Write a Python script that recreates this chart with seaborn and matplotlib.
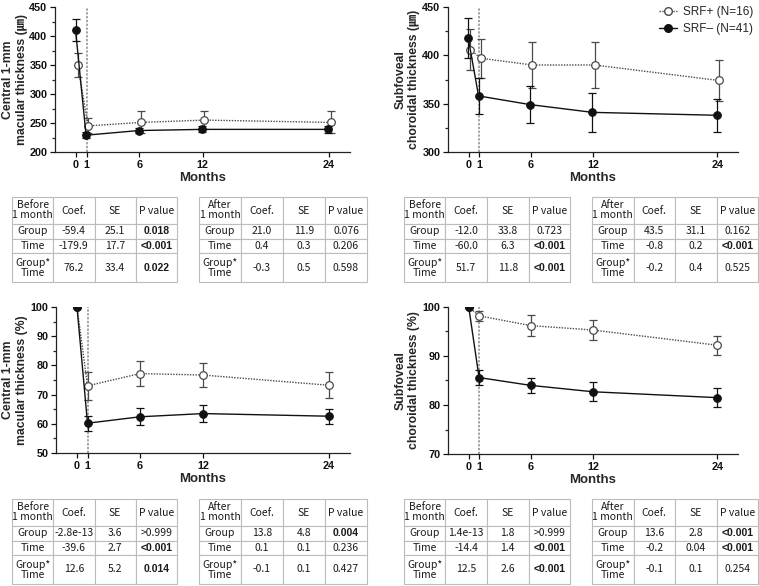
import numpy as np
import pandas as pd
import matplotlib
matplotlib.use('Agg')
import matplotlib.pyplot as plt
from matplotlib.ticker import MultipleLocator
from matplotlib.lines import Line2D
import seaborn as sns

sns.set_theme(style='ticks')
plt.rcParams['font.family'] = ['Liberation Sans', 'Noto Sans CJK KR', 'DejaVu Sans']

# ---------------------------------------------------------------------------
# data
# ---------------------------------------------------------------------------
months = [0, 1, 6, 12, 24]
lab_pos = 'SRF+ (N=16)'
lab_neg = 'SRF\u2013 (N=41)'

# Central 1-mm macular thickness (um)
cmt_pos = [350, 245, 251, 255, 251]
cmt_pos_se = [21, 13, 19, 16, 19]
cmt_neg = [410, 229, 237, 239, 239]
cmt_neg_se = [19, 5, 5, 5, 6]

# Subfoveal choroidal thickness (um)
sfct_pos = [406, 397, 390, 390, 374]
sfct_pos_se = [21, 20, 24, 24, 21]
sfct_neg = [418, 358, 349, 341, 338]
sfct_neg_se = [21, 19, 19, 20, 17]

# Central 1-mm macular thickness (%)
cmtp_pos = [100, 73.0, 77.2, 76.7, 73.2]
cmtp_pos_se = [0, 4.9, 4.4, 4.1, 4.4]
cmtp_neg = [100, 60.2, 62.4, 63.5, 62.6]
cmtp_neg_se = [0, 2.6, 2.9, 3.0, 2.6]

# Subfoveal choroidal thickness (%)
sfctp_pos = [100, 98.2, 96.2, 95.3, 92.2]
sfctp_pos_se = [0, 1.0, 2.2, 2.0, 1.9]
sfctp_neg = [100, 85.6, 84.0, 82.7, 81.5]
sfctp_neg_se = [0, 1.5, 1.5, 1.9, 1.9]

# regression tables: rows Group, Time, Group*Time -> [Coef., SE, P value]
row_names = ['Group', 'Time', 'Group*\nTime']
cmt_before = [['-59.4', '25.1', '0.018'], ['-179.9', '17.7', '<0.001'], ['76.2', '33.4', '0.022']]
cmt_after = [['21.0', '11.9', '0.076'], ['0.4', '0.3', '0.206'], ['-0.3', '0.5', '0.598']]
sfct_before = [['-12.0', '33.8', '0.723'], ['-60.0', '6.3', '<0.001'], ['51.7', '11.8', '<0.001']]
sfct_after = [['43.5', '31.1', '0.162'], ['-0.8', '0.2', '<0.001'], ['-0.2', '0.4', '0.525']]
cmtp_before = [['-2.8e-13', '3.6', '>0.999'], ['-39.6', '2.7', '<0.001'], ['12.6', '5.2', '0.014']]
cmtp_after = [['13.8', '4.8', '0.004'], ['0.1', '0.1', '0.236'], ['-0.1', '0.1', '0.427']]
sfctp_before = [['1.4e-13', '1.8', '>0.999'], ['-14.4', '1.4', '<0.001'], ['12.5', '2.6', '<0.001']]
sfctp_after = [['13.6', '2.8', '<0.001'], ['-0.2', '0.04', '<0.001'], ['-0.1', '0.1', '0.254']]

# ---------------------------------------------------------------------------
W, H = 759, 586
fig = plt.figure(figsize=(W / 100, H / 100), dpi=100)


def px_rect(x0, y0, x1, y1):
    return [x0 / W, 1 - y1 / H, (x1 - x0) / W, (y1 - y0) / H]


POS_COLOR = '#4a4a4a'
NEG_COLOR = '#111111'
MSIZE = 5.5


def draw_panel(rect_px, pos, pos_se, neg, neg_se, ylim, major, ylabel, nudge, label_right):
    ax = fig.add_axes(px_rect(*rect_px))
    x_pos = [m + nudge for m in months]
    x_neg = [m - nudge / 3 for m in months]
    df = pd.DataFrame({'x_pos': x_pos, 'x_neg': x_neg, 'pos': pos, 'neg': neg})

    ax.axvline(1, color='#8c8c8c', lw=1.1, ls=(0, (1.5, 1)), zorder=1)

    ax.errorbar(x_pos, pos, yerr=pos_se, fmt='none', ecolor=POS_COLOR,
                elinewidth=0.9, capsize=3, capthick=0.9, zorder=2)
    sns.lineplot(data=df, x='x_pos', y='pos', ax=ax, color=POS_COLOR, lw=1,
                 linestyle=(0, (1, 1)), marker='o', markersize=MSIZE,
                 markerfacecolor='white', markeredgecolor=POS_COLOR,
                 markeredgewidth=0.9, zorder=3)
    ax.errorbar(x_neg, neg, yerr=neg_se, fmt='none', ecolor=NEG_COLOR,
                elinewidth=0.9, capsize=3, capthick=0.9, zorder=4)
    sns.lineplot(data=df, x='x_neg', y='neg', ax=ax, color=NEG_COLOR, lw=1,
                 marker='o', markersize=MSIZE, markerfacecolor=NEG_COLOR,
                 markeredgecolor=NEG_COLOR, zorder=5)

    ax.set_xlim(-2.0, 26)
    ax.set_ylim(*ylim)
    ax.set_xticks(months)
    ax.yaxis.set_major_locator(MultipleLocator(major))
    ax.yaxis.set_minor_locator(MultipleLocator(major / 2))
    ax.tick_params(axis='both', which='major', direction='out', length=3.5,
                   width=0.9, labelsize=7.8, pad=2, colors='#111111')
    ax.tick_params(axis='y', which='minor', direction='out', length=2.5, width=0.9)
    for t in ax.get_xticklabels() + ax.get_yticklabels():
        t.set_fontweight('bold')
    sns.despine(ax=ax)
    for s in ['left', 'bottom']:
        ax.spines[s].set_linewidth(0.9)
        ax.spines[s].set_color('#222222')
    ax.set_xlabel('Months', fontsize=9.5, fontweight='bold', labelpad=2)
    ax.set_ylabel(ylabel, fontsize=8.8, fontweight='bold', linespacing=1.2)
    # right edge of the rotated label, in pixels from the figure's left edge
    width_px = rect_px[2] - rect_px[0]
    ax.yaxis.set_label_coords((label_right - rect_px[0]) / width_px, 0.5)
    ax.grid(False)
    return ax


def draw_table(rect_px, header, data):
    ax = fig.add_axes(px_rect(*rect_px))
    ax.axis('off')
    cells = [[header, 'Coef.', 'SE', 'P value']]
    for name, row in zip(row_names, data):
        cells.append([name] + row)
    tbl = ax.table(cellText=cells, cellLoc='center', bbox=[0, 0, 1, 1])
    tbl.auto_set_font_size(False)
    heights = [27, 15, 14, 29]
    for (r, c), cell in tbl.get_celld().items():
        cell.set_height(heights[r])
        cell.set_width(1)
        cell.set_edgecolor('#bcbcbc')
        cell.set_linewidth(0.8)
        txt = cell.get_text()
        txt.set_fontsize(7.5)
        txt.set_color('#1a1a1a')
        txt.set_family(['Noto Sans CJK KR', 'DejaVu Sans'])
        txt.set_linespacing(1.0)
        if r > 0 and c == 3:
            p = txt.get_text()
            if p.startswith('<') or (not p.startswith('>') and float(p) < 0.05):
                txt.set_fontweight('bold')
                txt.set_family(['Liberation Sans', 'DejaVu Sans'])
    return ax


um = '(\u339b)'
draw_panel((55, 7, 350, 152), cmt_pos, cmt_pos_se, cmt_neg, cmt_neg_se,
           (200, 450), 50, 'Central 1-mm\nmacular thickness ' + um, 0.15, 28)
draw_panel((448, 7, 738, 152), sfct_pos, sfct_pos_se, sfct_neg, sfct_neg_se,
           (300, 450), 50, 'Subfoveal\nchoroidal thickness ' + um, 0.15, 420)
draw_panel((56, 307, 350, 453), cmtp_pos, cmtp_pos_se, cmtp_neg, cmtp_neg_se,
           (50, 100), 10, 'Central 1-mm\nmacular thickness (%)', 0.0, 28)
draw_panel((448, 307, 738, 454), sfctp_pos, sfctp_pos_se, sfctp_neg, sfctp_neg_se,
           (70, 100), 10, 'Subfoveal\nchoroidal thickness (%)', 0.0, 420)

draw_table((12, 197, 177, 282), 'Before\n1 month', cmt_before)
draw_table((199, 197, 367, 282), 'After\n1 month', cmt_after)
draw_table((404, 197, 570, 282), 'Before\n1 month', sfct_before)
draw_table((592, 197, 758, 282), 'After\n1 month', sfct_after)
draw_table((12, 499, 177, 584), 'Before\n1 month', cmtp_before)
draw_table((199, 499, 367, 584), 'After\n1 month', cmtp_after)
draw_table((404, 499, 570, 584), 'Before\n1 month', sfctp_before)
draw_table((592, 499, 758, 584), 'After\n1 month', sfctp_after)

handles = [
    Line2D([], [], color=POS_COLOR, lw=1, ls=(0, (1, 1)), marker='o', markersize=MSIZE,
           markerfacecolor='white', markeredgecolor=POS_COLOR),
    Line2D([], [], color=NEG_COLOR, lw=1, marker='o', markersize=MSIZE,
           markerfacecolor=NEG_COLOR),
]
fig.legend(handles, [lab_pos, lab_neg], loc='upper right',
           bbox_to_anchor=(1.0, 1.0), frameon=False, fontsize=8.5,
           handlelength=1.5, handletextpad=0.5, labelspacing=0.45,
           borderaxespad=0.1)

fig.savefig('out.png', dpi=100)
